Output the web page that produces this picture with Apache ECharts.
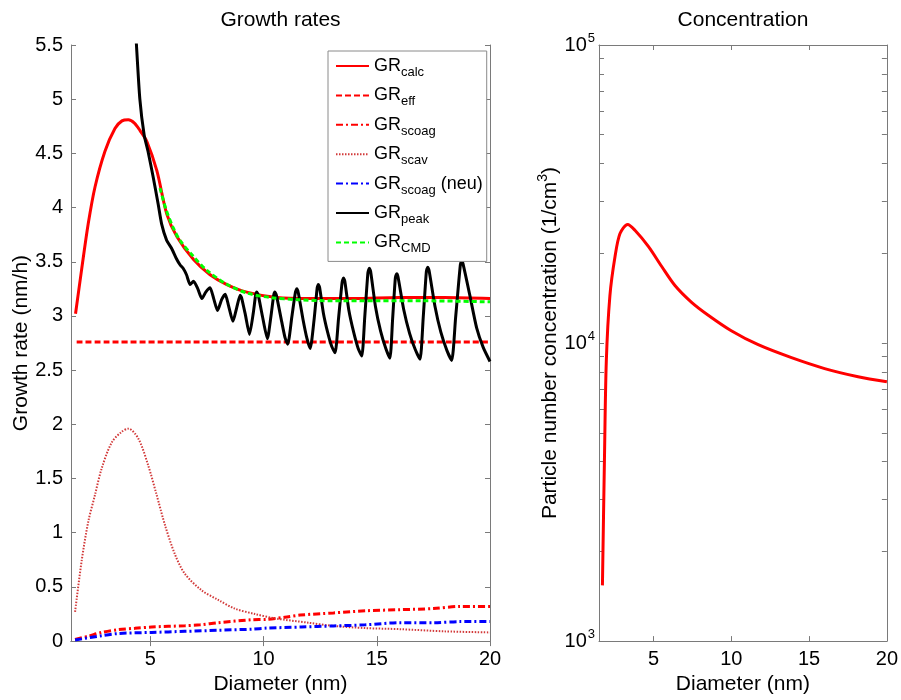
<!DOCTYPE html>
<html>
<head>
<meta charset="utf-8">
<script src="https://cdn.jsdelivr.net/npm/echarts@6.0.0/dist/echarts.min.js"></script>
<style>
  html, body { margin: 0; padding: 0; background: #fff; }
  #chart { width: 901px; height: 700px; }
</style>
</head>
<body>
<div id="chart"></div>
<script>
// diameter (nm) / value pairs
const calcD = [1.7, 1.97, 2.26, 2.56, 3.0, 3.44, 3.75, 4.03, 4.3, 4.55, 4.85, 5.29, 5.73, 6.18, 6.91, 7.64, 8.38, 9.26, 10.59, 12, 14, 16, 18, 20];
const calcV = [3.02, 3.43, 3.85, 4.19, 4.52, 4.73, 4.80, 4.81, 4.78, 4.71, 4.61, 4.34, 3.94, 3.73, 3.52, 3.38, 3.29, 3.22, 3.17, 3.16, 3.16, 3.17, 3.17, 3.16];

const effD = [1.75, 20];
const effV = [2.76, 2.76];

const scoagD = [1.68, 2.26, 2.85, 3.59, 4.32, 5.06, 6.53, 7.2, 8.0, 9.47, 10.15, 10.94, 11.62, 13.09, 14.56, 16.03, 17.5, 18.7, 20];
const scoagV = [0.015, 0.045, 0.08, 0.106, 0.118, 0.13, 0.142, 0.15, 0.17, 0.197, 0.20, 0.22, 0.24, 0.26, 0.28, 0.29, 0.30, 0.32, 0.32];

const scavD = [1.68, 1.97, 2.26, 2.56, 2.85, 3.29, 3.73, 4.03, 4.47, 4.91, 5.28, 5.65, 6.09, 6.53, 7.26, 8.0, 8.73, 9.62, 10.5, 11.97, 13.09, 14.5, 16.03, 18, 20];
const scavV = [0.27, 0.74, 1.10, 1.35, 1.59, 1.83, 1.93, 1.96, 1.87, 1.62, 1.35, 1.07, 0.80, 0.62, 0.47, 0.38, 0.30, 0.25, 0.21, 0.17, 0.14, 0.12, 0.11, 0.09, 0.08];

const neuD = [1.68, 2.85, 3.59, 5.06, 6.53, 8.0, 9.47, 10.15, 11.67, 13.09, 14.5, 16.03, 17.5, 18.7, 20];
const neuV = [0.01, 0.05, 0.07, 0.08, 0.09, 0.10, 0.11, 0.12, 0.13, 0.14, 0.15, 0.17, 0.17, 0.18, 0.18];

const peakD = [4.3, 4.39, 4.54, 4.73, 4.9, 5.13, 5.35, 5.5, 5.72, 5.95, 6.15, 6.32, 6.45, 6.6, 6.76, 6.91, 7.1, 7.28, 7.45, 7.64, 7.8, 7.97, 8.15, 8.31,
  8.45, 8.65, 8.82, 8.97, 9.03, 9.2, 9.38, 9.55, 9.65, 9.7, 9.77, 9.95, 10.17, 10.33, 10.45, 10.5,
  10.57, 10.8, 10.95, 11.07, 11.25, 11.41, 11.47, 11.54, 11.75, 11.92, 12.06, 12.24, 12.37, 12.42,
  12.48, 12.64, 12.83, 13.01, 13.16, 13.31, 13.47, 13.53,
  13.59, 13.77, 13.98, 14.18, 14.34, 14.47, 14.61, 14.67,
  14.73, 14.94, 15.17, 15.40, 15.58, 15.70, 15.82, 15.88,
  15.94, 16.19, 16.45, 16.70, 16.91, 17.05, 17.19, 17.25,
  17.31, 17.57, 17.83, 18.10, 18.31, 18.48, 18.69, 18.75,
  18.81, 19.11, 19.41, 19.70, 20];
const peakV = [5.85, 5.5, 5.0, 4.67, 4.52, 4.28, 4.03, 3.85, 3.70, 3.62, 3.53, 3.47, 3.44, 3.38, 3.29, 3.32, 3.25, 3.16, 3.22, 3.26, 3.16, 3.05, 3.15, 3.20,
  3.10, 2.95, 3.08, 3.19, 3.17, 3.01, 2.83, 3.03, 3.19, 3.22, 3.19, 3.00, 2.79, 3.00, 3.19, 3.22,
  3.19, 2.95, 2.80, 2.74, 2.99, 3.22, 3.25, 3.21, 2.96, 2.79, 2.70, 2.98, 3.26, 3.29,
  3.26, 3.03, 2.85, 2.72, 2.66, 2.97, 3.31, 3.35,
  3.32, 3.05, 2.85, 2.70, 2.63, 2.99, 3.40, 3.44,
  3.41, 3.09, 2.86, 2.70, 2.61, 2.97, 3.35, 3.39,
  3.36, 3.06, 2.84, 2.69, 2.60, 2.98, 3.41, 3.45,
  3.42, 3.09, 2.85, 2.68, 2.59, 2.98, 3.47, 3.51,
  3.48, 3.19, 2.89, 2.71, 2.58];

const cmdD = [5.43, 5.7, 6.0, 6.3, 6.9, 7.5, 8.4, 9.3, 10.3, 11.5, 13, 15, 17, 20];
const cmdV = [4.18, 3.98, 3.82, 3.70, 3.55, 3.42, 3.29, 3.21, 3.17, 3.15, 3.14, 3.14, 3.14, 3.13];

const concD = [1.72, 1.85, 1.97, 2.2, 2.53, 2.85, 3.34, 3.81, 4.67, 5.52, 6.38, 7.45, 8.52, 10.0, 11.73, 13.87, 16.0, 18.15, 20];
const concV = [1538, 4070, 8700, 14400, 19500, 23300, 25000, 23900, 21100, 18100, 15600, 13700, 12400, 11000, 9870, 8930, 8210, 7710, 7420];

const xTicks = [5, 10, 15, 20];
const logLabels = [1000, 10000, 100000];
const logTicks = [1000, 2000, 3000, 4000, 5000, 6000, 7000, 8000, 9000,
  10000, 20000, 30000, 40000, 50000, 60000, 70000, 80000, 90000, 100000];

const legendText = {
  'GR_calc': '{m|GR}{s|calc}',
  'GR_eff': '{m|GR}{s|eff}',
  'GR_scoag': '{m|GR}{s|scoag}',
  'GR_scav': '{m|GR}{s|scav}',
  'GR_scoag (neu)': '{m|GR}{s|scoag}{m| (neu)}',
  'GR_peak': '{m|GR}{s|peak}',
  'GR_CMD': '{m|GR}{s|CMD}'
};

const FONT = 'Liberation Sans, Arial, sans-serif';
const AXIS_GREY = '#7a7a7a';

function zip(xs, ys) {
  return xs.map((x, i) => [x, ys[i]]);
}

function boxAxis(extra) {
  return Object.assign({
    axisLine: { show: true, lineStyle: { color: AXIS_GREY, width: 1 } },
    axisTick: { show: true, inside: true, length: 5, lineStyle: { color: AXIS_GREY } },
    axisLabel: { show: false },
    splitLine: { show: false }
  }, extra);
}

const labelStyle = { fontFamily: FONT, fontSize: 20, color: '#000' };
const nameStyle = { fontFamily: FONT, fontSize: 21, color: '#000' };

function line(name, d, v, color, width, type, xi, yi) {
  return {
    name: name,
    type: 'line',
    xAxisIndex: xi || 0,
    yAxisIndex: yi || 0,
    data: zip(d, v),
    symbol: 'none',
    smooth: 0.3,
    lineStyle: { color: color, width: width, type: type },
    itemStyle: { color: color },
    z: 3
  };
}

const chart = echarts.init(document.getElementById('chart'), null, { renderer: 'canvas' });
chart.setOption({
  animation: false,
  backgroundColor: '#fff',
  grid: [
    { left: 71, top: 45, width: 419, height: 607 },
    { left: 599, top: 45, width: 289, height: 607 }
  ],
  legend: {
    data: ['GR_calc', 'GR_eff', 'GR_scoag', 'GR_scav', 'GR_scoag (neu)', 'GR_peak', 'GR_CMD'],
    orient: 'vertical',
    left: 328,
    top: 51,
    padding: [6, 4, 6, 7],
    itemGap: 7.4,
    itemWidth: 33,
    itemHeight: 14,
    itemStyle: { color: 'rgba(0,0,0,0)', borderWidth: 0, opacity: 0 },
    backgroundColor: '#fff',
    borderColor: '#8a8a8a',
    borderWidth: 1,
    formatter: name => legendText[name],
    textStyle: {
      fontFamily: FONT, fontSize: 18, color: '#000',
      rich: {
        m: { fontFamily: FONT, fontSize: 18, color: '#000' },
        s: { fontFamily: FONT, fontSize: 13, color: '#000', padding: [13, 0, 0, 0] }
      }
    }
  },
  xAxis: [
    boxAxis({
      gridIndex: 0, type: 'value', min: 1.5, max: 20,
      axisTick: { show: true, inside: true, length: 5, customValues: xTicks, lineStyle: { color: AXIS_GREY } },
      axisLabel: Object.assign({ show: true, margin: 8, customValues: xTicks }, labelStyle),
      name: 'Diameter (nm)', nameLocation: 'middle', nameGap: 32, nameTextStyle: nameStyle
    }),
    boxAxis({
      gridIndex: 0, type: 'value', min: 1.5, max: 20, position: 'top',
      axisTick: { show: true, inside: true, length: 5, customValues: xTicks, lineStyle: { color: AXIS_GREY } },
      name: 'Growth rates', nameLocation: 'middle', nameGap: 14, nameTextStyle: nameStyle
    }),
    boxAxis({
      gridIndex: 1, type: 'value', min: 1.5, max: 20,
      axisTick: { show: true, inside: true, length: 5, customValues: xTicks, lineStyle: { color: AXIS_GREY } },
      axisLabel: Object.assign({ show: true, margin: 8, customValues: xTicks }, labelStyle),
      name: 'Diameter (nm)', nameLocation: 'middle', nameGap: 32, nameTextStyle: nameStyle
    }),
    boxAxis({
      gridIndex: 1, type: 'value', min: 1.5, max: 20, position: 'top',
      axisTick: { show: true, inside: true, length: 5, customValues: xTicks, lineStyle: { color: AXIS_GREY } },
      name: 'Concentration', nameLocation: 'middle', nameGap: 14, nameTextStyle: nameStyle
    })
  ],
  yAxis: [
    boxAxis({
      gridIndex: 0, type: 'value', min: 0, max: 5.5, interval: 0.5,
      axisLabel: Object.assign({ show: true, margin: 8 }, labelStyle),
      name: 'Growth rate (nm/h)', nameLocation: 'middle', nameGap: 37, nameTextStyle: nameStyle
    }),
    boxAxis({
      gridIndex: 0, type: 'value', min: 0, max: 5.5, interval: 0.5, position: 'right'
    }),
    boxAxis({
      gridIndex: 1, type: 'log', logBase: 10, min: 1000, max: 100000,
      axisTick: { show: true, inside: true, length: 5, customValues: logTicks, lineStyle: { color: AXIS_GREY } },
      axisLabel: Object.assign({
        show: true, margin: 4, customValues: logLabels,
        formatter: v => '{b|10}{e|' + Math.round(Math.log10(v)) + '}',
        rich: {
          b: { fontFamily: FONT, fontSize: 20, color: '#000' },
          e: { fontFamily: FONT, fontSize: 13, color: '#000', padding: [0, 0, 14, 1] }
        }
      }, labelStyle),
      name: 'Particle number concentration (1/cm{e|3})', nameLocation: 'middle', nameGap: 35,
      nameTextStyle: Object.assign({
        rich: { e: { fontFamily: FONT, fontSize: 14, color: '#000', padding: [0, 0, 14, 0] } }
      }, nameStyle)
    }),
    boxAxis({
      gridIndex: 1, type: 'log', logBase: 10, min: 1000, max: 100000, position: 'right',
      axisTick: { show: true, inside: true, length: 5, customValues: logTicks, lineStyle: { color: AXIS_GREY } }
    })
  ],
  series: [
    line('GR_calc', calcD, calcV, '#ff0000', 3, 'solid'),
    line('GR_eff', effD, effV, '#ff0000', 3, [6, 3]),
    line('GR_scoag', scoagD, scoagV, '#ff0000', 3, [7, 3, 2, 3]),
    line('GR_scav', scavD, scavV, '#d23a3a', 2, [1.5, 1.5]),
    line('GR_scoag (neu)', neuD, neuV, '#0000ff', 3, [7, 3, 2, 3]),
    Object.assign(line('GR_peak', peakD, peakV, '#000000', 3, 'solid'), { smooth: 0.2 }),
    line('GR_CMD', cmdD, cmdV, '#00ff00', 3, [5, 3]),
    line('Concentration', concD, concV, '#ff0000', 3, 'solid', 2, 2)
  ]
});
</script>
</body>
</html>
